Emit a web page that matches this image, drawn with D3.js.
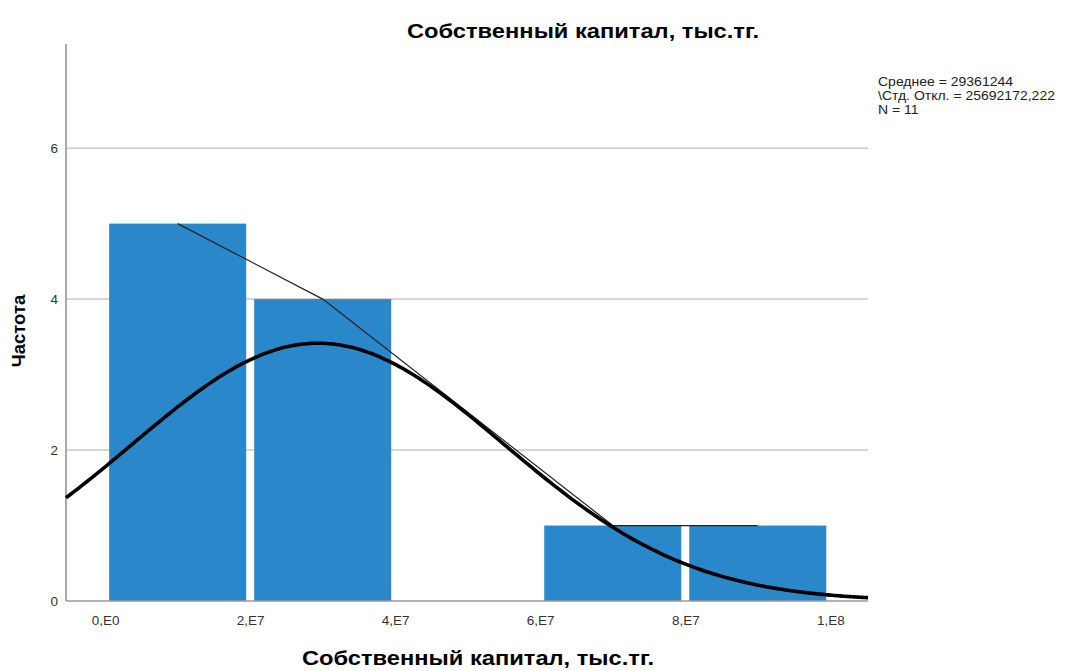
<!DOCTYPE html>
<html>
<head>
<meta charset="utf-8">
<script src="https://cdn.jsdelivr.net/npm/d3@7"></script>
<style>
  body { margin: 0; background: #fff; }
  text { font-family: "Liberation Sans", Arial, sans-serif; }
</style>
</head>
<body>
<div id="chart"></div>
<script>
// histogram bins (start of bin) and counts
const binStarts = [0, 2e7, 6e7, 8e7];
const binWidth = 2e7;
const counts = [5, 4, 1, 1];

// summary statistics shown in the legend
const meanVal = 29361244;
const sdVal = 25692172.222;
const nVal = 11;
const legendLines = ["Среднее = 29361244", "\\Стд. Откл. = 25692172,222", "N = 11"];

const xTicks = [0, 2e7, 4e7, 6e7, 8e7, 1e8];
const xTickLabels = ["0,E0", "2,E7", "4,E7", "6,E7", "8,E7", "1,E8"];
const yTicks = [0, 2, 4, 6];
const xDomain = [-5.4e6, 105.2e6];
const yDomain = [0, 7.38];

const width = 1075, height = 671;
const svg = d3.select("#chart").append("svg")
    .attr("width", width)
    .attr("height", height);

const x = d3.scaleLinear().domain(xDomain).range([66, 868]);
const y = d3.scaleLinear().domain(yDomain).range([601, 44]);

// gridlines
svg.append("g")
    .selectAll("line")
    .data(yTicks.filter(d => d > 0))
    .enter()
    .append("line")
    .attr("x1", x(xDomain[0]))
    .attr("x2", x(xDomain[1]))
    .attr("y1", d => y(d))
    .attr("y2", d => y(d))
    .style("stroke", "#c9c9c9")
    .style("stroke-width", 1.5);

// bars
svg.append("g")
    .selectAll("rect")
    .data(binStarts.map((s, i) => ({ start: s, count: counts[i] })))
    .enter()
    .append("rect")
    .attr("x", d => x(d.start) + 4)
    .attr("width", d => x(d.start + binWidth) - x(d.start) - 8)
    .attr("y", d => y(d.count))
    .attr("height", d => y(0) - y(d.count))
    .style("fill", "#2a87c9");

// baseline and y axis line
svg.append("line")
    .attr("x1", x(xDomain[0])).attr("x2", x(xDomain[1]))
    .attr("y1", y(0)).attr("y2", y(0))
    .style("stroke", "#9a9a9a").style("stroke-width", 1.5);
svg.append("line")
    .attr("x1", x(xDomain[0])).attr("x2", x(xDomain[0]))
    .attr("y1", y(yDomain[1])).attr("y2", y(0))
    .style("stroke", "#a8a8a8").style("stroke-width", 2);

// thin line through bin centres
const thin = d3.line()
    .x(d => x(d.start + binWidth / 2))
    .y(d => y(d.count));
svg.append("path")
    .datum(binStarts.map((s, i) => ({ start: s, count: counts[i] })))
    .attr("d", thin)
    .style("fill", "none")
    .style("stroke", "#222")
    .style("stroke-width", 1.2);

// normal curve from the legend statistics
const scaleFactor = nVal * binWidth / (sdVal * Math.sqrt(2 * Math.PI));
const curvePts = d3.range(0, 201).map(i => {
    const v = xDomain[0] + (xDomain[1] - xDomain[0]) * i / 200;
    const z = (v - meanVal) / sdVal;
    return [v, scaleFactor * Math.exp(-0.5 * z * z)];
});
svg.append("path")
    .datum(curvePts)
    .attr("d", d3.line().x(d => x(d[0])).y(d => y(d[1])).curve(d3.curveBasis))
    .style("fill", "none")
    .style("stroke", "#000")
    .style("stroke-width", 3.6);

// axes (labels only)
const xAxis = svg.append("g")
    .attr("transform", `translate(0,${y(0)})`)
    .call(d3.axisBottom(x).tickValues(xTicks).tickSize(0).tickPadding(14)
        .tickFormat((d, i) => xTickLabels[i]));
xAxis.select(".domain").remove();
xAxis.selectAll("text").style("font-size", "13.5px").style("fill", "#333");

const yAxis = svg.append("g")
    .attr("transform", `translate(${x(xDomain[0])},0)`)
    .call(d3.axisLeft(y).tickValues(yTicks).tickSize(0).tickPadding(8));
yAxis.select(".domain").remove();
yAxis.selectAll("text").style("font-size", "13.5px").style("fill", "#333");

// titles
svg.append("text")
    .attr("x", 583).attr("y", 38)
    .attr("text-anchor", "middle")
    .attr("textLength", 352).attr("lengthAdjust", "spacingAndGlyphs")
    .style("font-size", "21px").style("font-weight", "bold")
    .text("Собственный капитал, тыс.тг.");

svg.append("text")
    .attr("x", 478).attr("y", 665)
    .attr("text-anchor", "middle")
    .attr("textLength", 352).attr("lengthAdjust", "spacingAndGlyphs")
    .style("font-size", "20px").style("font-weight", "bold")
    .text("Собственный капитал, тыс.тг.");

svg.append("text")
    .attr("transform", "translate(25,331) rotate(-90)")
    .attr("text-anchor", "middle")
    .style("font-size", "18.5px").style("font-weight", "bold")
    .text("Частота");

// legend
svg.append("g")
    .attr("transform", "translate(878,0) scale(1.12,1)")
    .selectAll("text")
    .data(legendLines)
    .enter()
    .append("text")
    .attr("x", 0)
    .attr("y", (d, i) => 86 + i * 14)
    .style("font-size", "12.5px")
    .style("fill", "#222")
    .text(d => d);
</script>
</body>
</html>
